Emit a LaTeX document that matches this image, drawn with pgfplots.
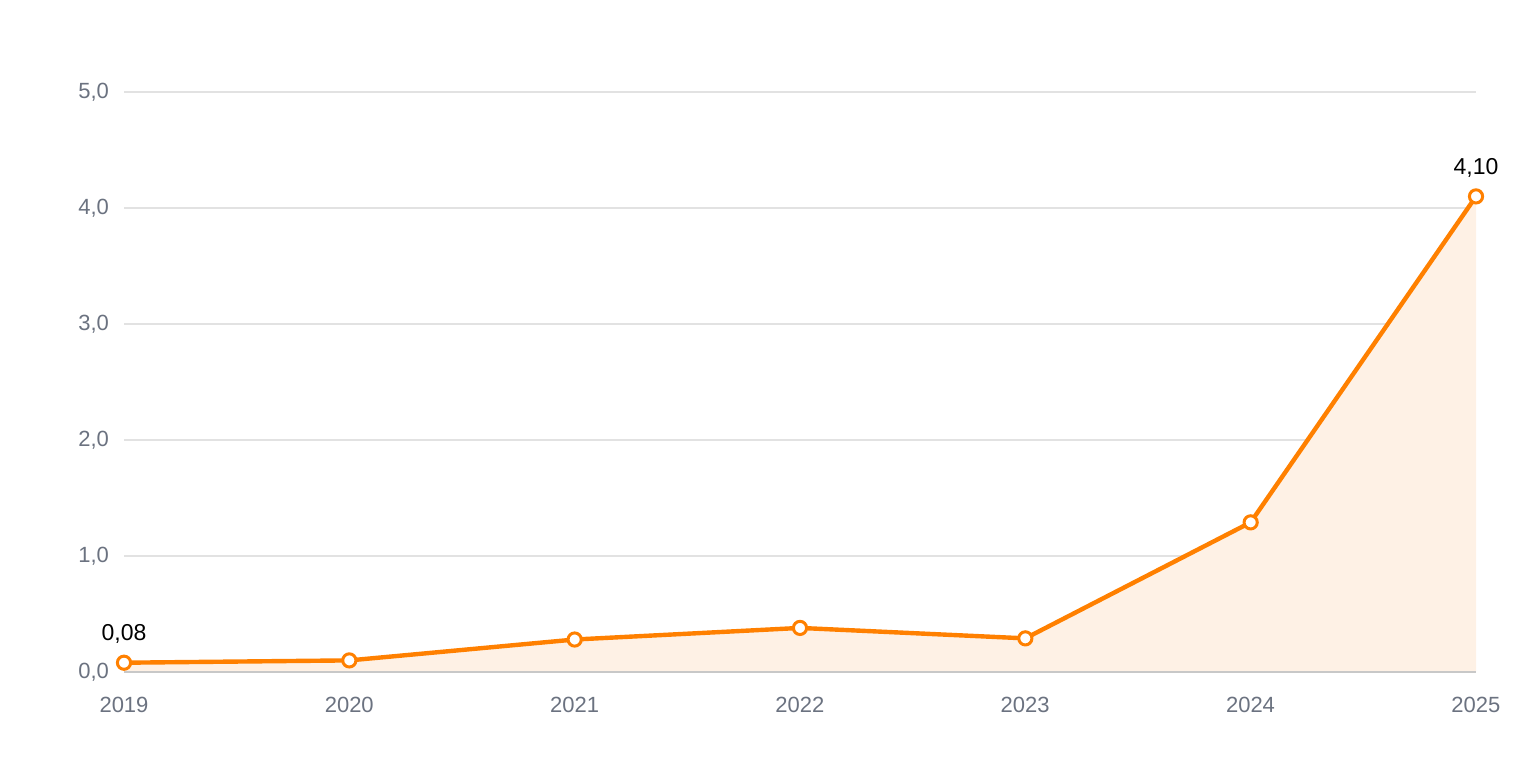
\documentclass[border=0pt]{standalone}
\usepackage{pgfplots}
\pgfplotsset{compat=1.18}
\usepackage{fontspec}
\setmainfont{Liberation Sans}
\definecolor{lineor}{RGB}{255,128,0}
\definecolor{fillor}{RGB}{254,241,229}
\definecolor{tickgray}{RGB}{107,114,128}
\definecolor{gridc}{RGB}{226,226,226}
\definecolor{basec}{RGB}{200,200,200}
\begin{document}
\begin{tikzpicture}
\path[use as bounding box] (0,0) rectangle (760pt,380pt);
\begin{axis}[
  at={(62pt,44pt)}, anchor=south west,
  scale only axis, width=676pt, height=290pt,
  xmin=2019, xmax=2025, ymin=0, ymax=5,
  axis line style={draw=none},
  xtick={2019,...,2025},
  ytick={0,1,2,3,4,5},
  major tick length=0pt,
  ymajorgrids, grid style={gridc, line width=0.75pt},
  clip=false,
  /pgf/number format/assume math mode=true,
  xticklabel style={/pgf/number format/1000 sep={}, font=\fontsize{11}{13}\selectfont, text=tickgray, yshift=-9pt},
  yticklabel style={/pgf/number format/.cd, use comma, fixed, fixed zerofill, precision=1, /tikz/.cd, font=\fontsize{11}{13}\selectfont, text=tickgray, xshift=-4pt},
  x tick label style={/pgf/number format/1000 sep={}},
]
\addplot[fill=fillor, draw=none, forget plot] coordinates {
  (2019,0.08) (2020,0.10) (2021,0.28) (2022,0.38) (2023,0.29) (2024,1.29) (2025,4.10)
} \closedcycle;
\addplot[basec, line width=1pt, forget plot] coordinates {(2019,0) (2025,0)};
\addplot[lineor, line width=2.2pt, mark=*, mark size=3.3pt,
  mark options={fill=white, draw=lineor, line width=1.5pt}] coordinates {
  (2019,0.08) (2020,0.10) (2021,0.28) (2022,0.38) (2023,0.29) (2024,1.29) (2025,4.10)
};
\addplot[draw=none, nodes near coords, point meta=explicit symbolic,
  every node near coord/.append style={font=\fontsize{11.5}{13}\selectfont, text=black, yshift=6pt}] coordinates {
  (2019,0.08) [0,08]
  (2025,4.10) [4,10]
};
\end{axis}
\end{tikzpicture}
\end{document}
